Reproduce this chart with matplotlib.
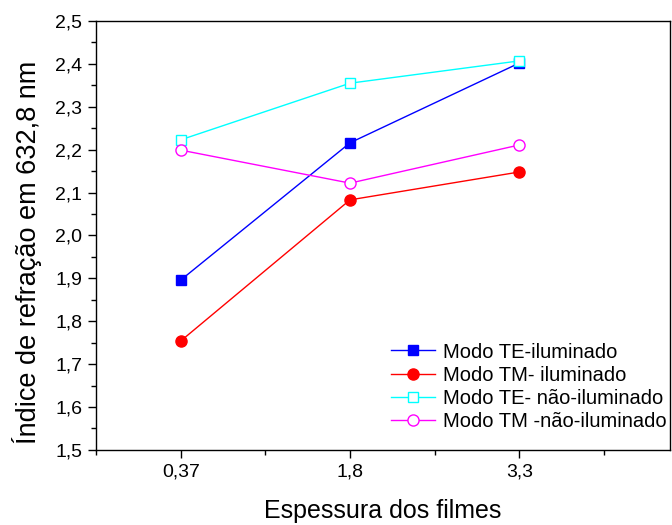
import matplotlib
matplotlib.use("Agg")
import matplotlib.pyplot as plt
from matplotlib.ticker import MultipleLocator, FuncFormatter

plt.rcParams['font.family'] = ['Liberation Sans', 'DejaVu Sans']

categories = ["0,37", "1,8", "3,3"]
te_ilum = [1.896, 2.216, 2.402]
tm_ilum = [1.754, 2.083, 2.148]
te_nao = [2.223, 2.355, 2.407]
tm_nao = [2.199, 2.122, 2.211]

labels = ["Modo TE-iluminado", "Modo TM- iluminado",
          "Modo TE- não-iluminado", "Modo TM -não-iluminado"]

x = [1, 2, 3]

fig = plt.figure(figsize=(6.72, 5.25), dpi=100)
ax = fig.add_axes([0.143, 0.143, 0.854, 0.817])

ax.plot(x, te_ilum, color='blue', lw=1, marker='s', ms=7, mfc='blue', mec='blue', label=labels[0])
ax.plot(x, tm_ilum, color='red', lw=1, marker='o', ms=8, mfc='red', mec='red', label=labels[1])
ax.plot(x, te_nao, color='cyan', lw=1, marker='s', ms=7, mfc='white', mec='cyan', label=labels[2])
ax.plot(x, tm_nao, color='magenta', lw=1, marker='o', ms=8, mfc='white', mec='magenta', label=labels[3])

ax.set_xlim(0.5, 3.89)
ax.set_ylim(1.5, 2.5)
ax.set_xticks(x)
ax.set_xticklabels(categories)
ax.xaxis.set_minor_locator(MultipleLocator(0.5))
ax.yaxis.set_major_locator(MultipleLocator(0.1))
ax.yaxis.set_minor_locator(MultipleLocator(0.05))
ax.yaxis.set_major_formatter(FuncFormatter(lambda v, p: f"{v:.1f}".replace('.', ',')))

ax.tick_params(which='major', direction='out', length=6, width=1, labelsize=14, top=False, right=False, pad=4)
ax.tick_params(which='minor', direction='out', length=3.5, width=1, top=False, right=False)
for s in ax.spines.values():
    s.set_linewidth(1)

ax.set_xlabel("Espessura dos filmes", fontsize=18, labelpad=13)
ax.set_ylabel("Índice de refração em 632,8 nm", fontsize=19.5)
ax.yaxis.set_label_coords(-0.095, 0.46)

ax.legend(loc='lower right', bbox_to_anchor=(0.995, 0.045), frameon=False, fontsize=14.5,
          handlelength=2.2, handletextpad=0.4, labelspacing=0.2, borderaxespad=0, borderpad=0)

fig.savefig("out.png", dpi=100)
